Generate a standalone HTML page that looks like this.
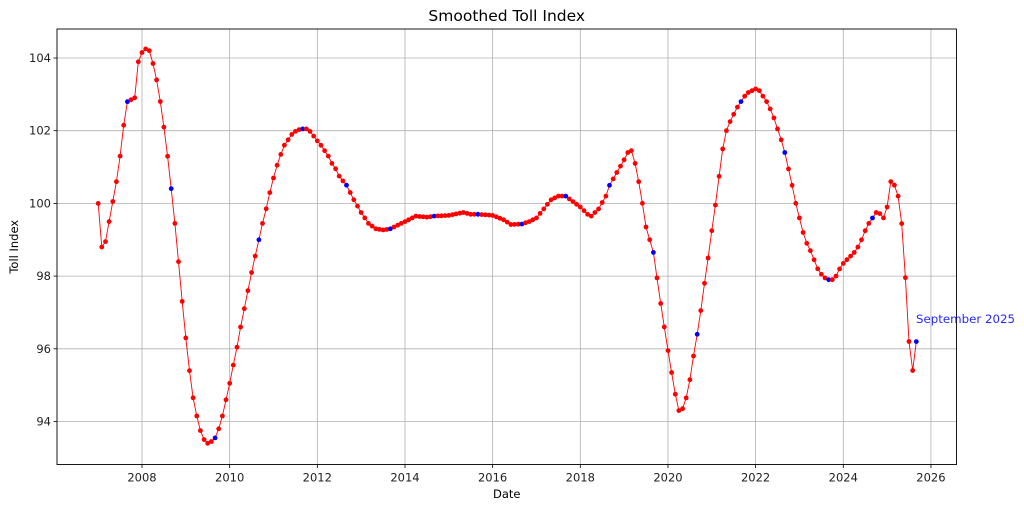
<!DOCTYPE html>
<html><head><meta charset="utf-8"><style>
body{margin:0;background:#fff;}
svg text{font-family:"DejaVu Sans","Liberation Sans",sans-serif;}
</style></head><body>
<svg id="s" width="1024" height="510" xmlns="http://www.w3.org/2000/svg"></svg>
<script>
const K=[[2007.0,100.0],[2007.083,98.8],[2007.167,98.95],[2007.25,99.5],[2007.333,100.05],[2007.417,100.6],[2007.5,101.3],[2007.583,102.15],[2007.667,102.8],[2007.75,102.85],[2007.833,102.9],[2007.917,103.9],[2008.0,104.15],[2008.083,104.25],[2008.167,104.2],[2008.25,103.85],[2008.333,103.4],[2008.417,102.8],[2008.5,102.1],[2008.583,101.3],[2008.667,100.4],[2008.75,99.45],[2008.833,98.4],[2008.917,97.3],[2009.0,96.3],[2009.083,95.4],[2009.167,94.65],[2009.25,94.15],[2009.333,93.75],[2009.417,93.5],[2009.5,93.4],[2009.583,93.45],[2009.667,93.55],
[2009.75,93.8],[2009.833,94.15],[2009.917,94.6],[2010.0,95.05],[2010.083,95.55],[2010.167,96.05],[2010.25,96.6],[2010.333,97.1],[2010.417,97.6],[2010.5,98.1],[2010.583,98.55],[2010.667,99.0],[2010.75,99.45],[2010.833,99.85],[2010.917,100.3],[2011.0,100.7],[2011.083,101.05],[2011.167,101.35],[2011.25,101.6],[2011.333,101.75],[2011.417,101.9],[2011.5,101.98],[2011.583,102.03],[2011.667,102.05],[2011.75,102.05],[2011.833,101.98],[2011.917,101.85],[2012.0,101.72],[2012.083,101.6],[2012.167,101.45],[2012.25,101.3],[2012.333,101.1],[2012.417,100.95],[2012.5,100.75],[2012.583,100.62],[2012.667,100.5],[2012.833,100.1],[2013.0,99.75],[2013.167,99.45],[2013.333,99.3],[2013.5,99.27],[2013.667,99.3],[2014.0,99.5],[2014.25,99.65],[2014.5,99.62],[2014.667,99.65],[2015.0,99.67],[2015.333,99.75],[2015.5,99.7],[2015.667,99.7],[2016.0,99.67],[2016.25,99.55],[2016.417,99.42],[2016.667,99.43],[2016.833,99.5],[2017.0,99.6],[2017.167,99.85],[2017.333,100.1],[2017.5,100.2],[2017.667,100.2],[2017.833,100.05],[2018.0,99.9],[2018.167,99.7],[2018.25,99.65],[2018.417,99.85],[2018.583,100.2],[2018.667,100.5],[2018.833,100.85],[2019.0,101.2],[2019.083,101.4],[2019.167,101.45],[2019.25,101.1],[2019.333,100.6],[2019.417,100.0],[2019.5,99.35],[2019.667,98.65],[2019.75,97.95],[2019.833,97.25],[2019.917,96.6],[2020.0,95.95],[2020.083,95.35],[2020.167,94.75],[2020.25,94.3],[2020.333,94.35],[2020.417,94.65],[2020.5,95.15],[2020.583,95.8],[2020.667,96.4],[2020.75,97.05],[2020.833,97.8],[2020.917,98.5],[2021.0,99.25],[2021.083,99.95],[2021.167,100.75],[2021.25,101.5],[2021.333,102.0],[2021.417,102.25],[2021.5,102.45],[2021.583,102.65],[2021.667,102.8],[2021.75,102.95],[2021.833,103.05],[2021.917,103.1],[2022.0,103.15],[2022.083,103.1],[2022.167,102.95],[2022.25,102.8],[2022.333,102.6],[2022.417,102.35],[2022.5,102.05],[2022.583,101.75],[2022.667,101.4],[2022.75,100.95],[2022.833,100.5],[2022.917,100.0],[2023.0,99.6],[2023.083,99.2],[2023.167,98.9],[2023.25,98.7],[2023.333,98.45],[2023.417,98.2],[2023.5,98.05],[2023.583,97.95],[2023.667,97.9],[2023.75,97.9],[2023.833,98.0],[2023.917,98.2],[2024.0,98.35],[2024.083,98.45],[2024.167,98.55],[2024.25,98.65],[2024.333,98.8],[2024.417,99.0],[2024.5,99.25],[2024.583,99.45],[2024.667,99.6],[2024.75,99.75],[2024.833,99.72],[2024.917,99.6],[2025.0,99.9],[2025.083,100.6],[2025.167,100.5],[2025.25,100.2],[2025.333,99.45],[2025.417,97.95],[2025.5,96.2],[2025.583,95.4],[2025.667,96.2]];
function val(t){for(let i=0;i<K.length-1;i++){if(t<=K[i+1][0]+1e-6){const a=K[i],b=K[i+1];return a[1]+(b[1]-a[1])*(t-a[0])/(b[0]-a[0]);}}return K[K.length-1][1];}
const X=t=>142+(t-2008)*43.83, Y=v=>58+(104-v)*36.35;
let h='';
const L=57,R=956.5,T=29,B=464.5;
for(let y=2008;y<=2026;y+=2){const x=X(y);h+=`<line x1="${x}" y1="${T}" x2="${x}" y2="${B}" stroke="#b0b0b0" stroke-width="0.8"/><line x1="${x}" y1="${B}" x2="${x}" y2="${B+3.5}" stroke="#000" stroke-width="0.8"/><text x="${x}" y="${B+17}" font-size="11.5" text-anchor="middle" fill="#222">${y}</text>`;}
for(let v=94;v<=104;v+=2){const y=Y(v);h+=`<line x1="${L}" y1="${y}" x2="${R}" y2="${y}" stroke="#b0b0b0" stroke-width="0.8"/><line x1="${L-3.5}" y1="${y}" x2="${L}" y2="${y}" stroke="#000" stroke-width="0.8"/><text x="${L-6}" y="${y+4}" font-size="11.5" text-anchor="end" fill="#222">${v}</text>`;}
let pts=[],dots='';
for(let m=0;m<=224;m++){const t=2007+m/12;const v=val(t);const x=X(t),y=Y(v);pts.push(x.toFixed(1)+','+y.toFixed(1));
dots+=`<circle cx="${x.toFixed(1)}" cy="${y.toFixed(1)}" r="2.4" fill="${(m%12==8)?'#0000ff':'#ff0000'}"/>`;}
h+=`<polyline points="${pts.join(' ')}" fill="none" stroke="#ff0000" stroke-width="0.9"/>`+dots;
h+=`<rect x="${L}" y="${T}" width="${R-L}" height="${B-T}" fill="none" stroke="#000" stroke-width="0.9"/>`;
h+=`<text x="${(L+R)/2}" y="21" font-size="15.5" text-anchor="middle" fill="#000">Smoothed Toll Index</text>`;
h+=`<text x="${(L+R)/2}" y="498" font-size="11.5" text-anchor="middle" fill="#000">Date</text>`;
h+=`<text x="18" y="${(T+B)/2}" font-size="11.5" text-anchor="middle" fill="#000" transform="rotate(-90 18 ${(T+B)/2})">Toll Index</text>`;
h+=`<text x="916" y="323" font-size="11.8" fill="#0000ff" fill-opacity="0.85">September 2025</text>`;
document.getElementById('s').innerHTML=h;
</script>
</body></html>
